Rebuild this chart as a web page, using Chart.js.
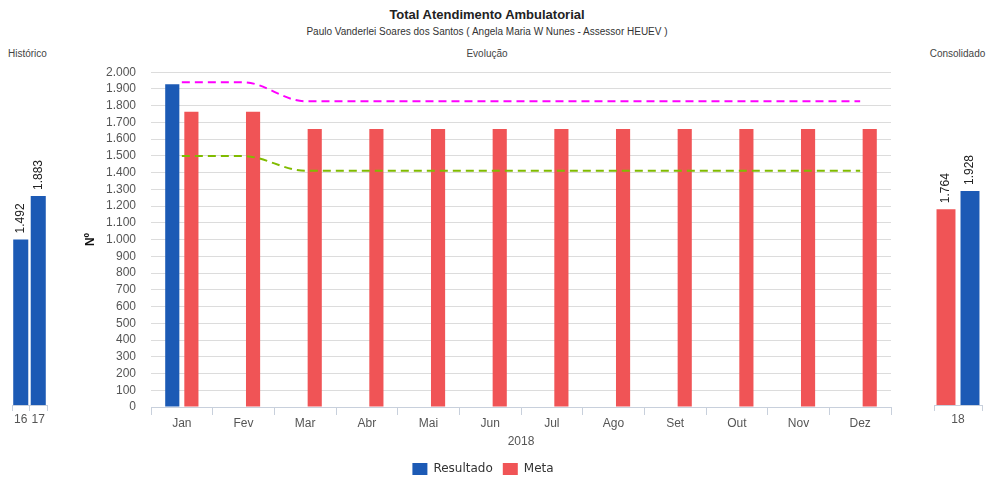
<!DOCTYPE html>
<html>
<head>
<meta charset="utf-8">
<script src="https://cdn.jsdelivr.net/npm/chart.js@4.4.1/dist/chart.umd.min.js"></script>
<style>
  body { margin: 0; background: #fff; font-family: "Liberation Sans", Arial, sans-serif; }
  #wrap { position: relative; width: 1000px; height: 500px; overflow: hidden; }
  .txt { position: absolute; white-space: nowrap; color: #333; }
  #title { top: 7px; left: 0; width: 974px; text-align: center; font-weight: bold; font-size: 13px; color: #222; }
  #subtitle { top: 26px; left: 0; width: 974px; text-align: center; font-size: 10px; color: #333; }
  .panel { top: 48px; font-size: 10px; color: #444; }
  canvas { position: absolute; }
</style>
</head>
<body>
<div id="wrap">
  <div id="title" class="txt">Total Atendimento Ambulatorial</div>
  <div id="subtitle" class="txt">Paulo Vanderlei Soares dos Santos ( Angela Maria W Nunes - Assessor HEUEV )</div>
  <div class="txt panel" style="left:8px;">Histórico</div>
  <div class="txt panel" style="left:0;width:974px;text-align:center;">Evolução</div>
  <div class="txt panel" style="left:900px;width:115px;text-align:center;">Consolidado</div>
  <canvas id="histChart" style="left:0;top:60px;width:60px;height:370px;"></canvas>
  <canvas id="mainChart" style="left:75px;top:50px;width:825px;height:435px;"></canvas>
  <canvas id="consChart" style="left:920px;top:60px;width:80px;height:370px;"></canvas>
</div>
<script>
// ---------- DATA ----------
const months = ['Jan', 'Fev', 'Mar', 'Abr', 'Mai', 'Jun', 'Jul', 'Ago', 'Set', 'Out', 'Nov', 'Dez'];
const resultado = [1928, null, null, null, null, null, null, null, null, null, null, null];
const meta = [1764, 1764, 1660, 1660, 1660, 1660, 1660, 1660, 1660, 1660, 1660, 1660];
const limiteSuperior = [1940, 1940, 1826, 1826, 1826, 1826, 1826, 1826, 1826, 1826, 1826, 1826];
const limiteInferior = [1499, 1499, 1411, 1411, 1411, 1411, 1411, 1411, 1411, 1411, 1411, 1411];
const yTicksMax = 2000;

const histYears = ['16', '17'];
const histResultado = [1492, 1883];

const consYear = ['18'];
const consMeta = [1764];
const consResultado = [1928];

const BLUE = '#1c5ab5';
const RED = '#f05456';
const FONT = '"Liberation Sans", Arial, sans-serif';

// 1.234 style numbers
function fmt(v) {
    return String(Math.round(v)).replace(/\B(?=(\d{3})+(?!\d))/g, '.');
}

// ---------- ROTATED VALUE LABELS ----------
const valueLabels = {
    id: 'valueLabels',
    afterDatasetsDraw(chart) {
        const ctx = chart.ctx;
        chart.data.datasets.forEach((ds, i) => {
            chart.getDatasetMeta(i).data.forEach((bar, j) => {
                const v = ds.data[j];
                if (v == null) return;
                ctx.save();
                ctx.translate(bar.x, bar.y - 6);
                ctx.rotate(-Math.PI / 2);
                ctx.font = '12px ' + FONT;
                ctx.fillStyle = '#222';
                ctx.textAlign = 'left';
                ctx.textBaseline = 'middle';
                ctx.fillText(fmt(v), 0, 0);
                ctx.restore();
            });
        });
    }
};

function sideXAxis() {
    return {
        grid: { offset: true, drawOnChartArea: false, drawTicks: true, tickLength: 6, color: '#c8d0dc' },
        border: { color: '#c8d0dc' },
        ticks: { color: '#555', font: { family: FONT, size: 12 }, padding: 1, autoSkip: false, minRotation: 0, maxRotation: 0 },
        afterFit: s => { s.height = 25; }
    };
}

// ---------- HISTÓRICO ----------
new Chart(document.getElementById('histChart'), {
    type: 'bar',
    data: {
        labels: histYears,
        datasets: [{ label: 'Resultado', data: histResultado, backgroundColor: BLUE, barPercentage: 0.86, categoryPercentage: 1 }]
    },
    options: {
        responsive: false,
        animation: false,
        layout: { padding: { left: 12, right: 13, top: 12, bottom: 0 } },
        plugins: { legend: { display: false }, tooltip: { enabled: false } },
        scales: {
            x: sideXAxis(),
            y: { display: false, min: 0, max: 3000 }
        }
    },
    plugins: [valueLabels]
});

// ---------- EVOLUÇÃO ----------
new Chart(document.getElementById('mainChart'), {
    type: 'bar',
    data: {
        labels: months,
        datasets: [
            { label: 'Resultado', data: resultado, backgroundColor: BLUE, order: 2 },
            { label: 'Meta', data: meta, backgroundColor: RED, order: 2 },
            { type: 'line', label: 'sup', data: limiteSuperior, borderColor: '#ff00ff', borderWidth: 2,
              borderDash: [8, 5], pointRadius: 0, cubicInterpolationMode: 'monotone', fill: false, order: 1 },
            { type: 'line', label: 'inf', data: limiteInferior, borderColor: '#80bb00', borderWidth: 2,
              borderDash: [8, 5], pointRadius: 0, cubicInterpolationMode: 'monotone', fill: false, order: 1 }
        ]
    },
    options: {
        responsive: false,
        animation: false,
        categoryPercentage: 0.62,
        barPercentage: 0.74,
        layout: { padding: { left: 0, right: 9, top: 2, bottom: 0 } },
        plugins: {
            tooltip: { enabled: false },
            legend: {
                position: 'bottom',
                labels: {
                    filter: item => item.datasetIndex < 2,
                    boxWidth: 15, boxHeight: 12, padding: 10,
                    color: '#333', font: { family: '"DejaVu Sans", Verdana, sans-serif', size: 12 }
                }
            }
        },
        scales: {
            x: {
                grid: { offset: true, drawOnChartArea: false, drawTicks: true, tickLength: 8, color: '#c8d0dc' },
                border: { color: '#c8d0dc' },
                ticks: { color: '#555', font: { family: FONT, size: 12 }, padding: 1 },
                title: { display: true, text: '2018', color: '#555', font: { family: FONT, size: 12 }, padding: { top: 0, bottom: 4 } },
                afterFit: s => { s.height = 46; }
            },
            y: {
                min: 0, max: yTicksMax,
                grid: { color: '#dcdcdc', drawTicks: false },
                border: { display: false },
                ticks: { stepSize: 100, autoSkip: false, color: '#555', font: { family: FONT, size: 12 }, padding: 15, callback: v => fmt(v) },
                title: { display: true, text: 'Nº', color: '#111', font: { family: FONT, size: 12, weight: 'bold' }, padding: { top: 8, bottom: 0 } },
                afterFit: s => { s.width = 76; }
            }
        }
    }
});

// ---------- CONSOLIDADO ----------
new Chart(document.getElementById('consChart'), {
    type: 'bar',
    data: {
        labels: consYear,
        datasets: [
            { label: 'Meta', data: consMeta, backgroundColor: RED },
            { label: 'Resultado', data: consResultado, backgroundColor: BLUE }
        ]
    },
    options: {
        responsive: false,
        animation: false,
        categoryPercentage: 1,
        barPercentage: 0.79,
        layout: { padding: { left: 14, right: 18, top: 12, bottom: 0 } },
        plugins: { legend: { display: false }, tooltip: { enabled: false } },
        scales: {
            x: sideXAxis(),
            y: { display: false, min: 0, max: 3000 }
        }
    },
    plugins: [valueLabels]
});
</script>
</body>
</html>
